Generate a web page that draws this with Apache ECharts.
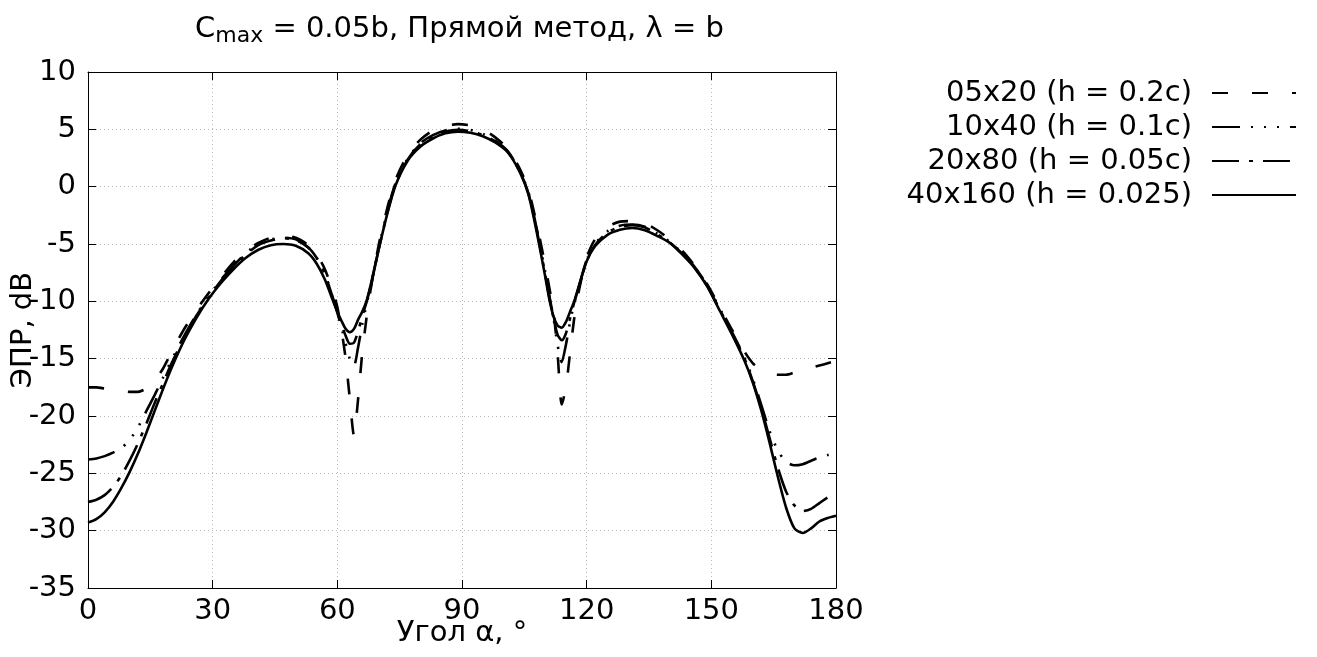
<!DOCTYPE html>
<html><head><meta charset="utf-8">
<script src="https://cdn.jsdelivr.net/npm/echarts@6/dist/echarts.min.js"></script>
<style>html,body{margin:0;padding:0;background:#fff}#c{width:1317px;height:657px}</style>
</head><body><div id="c"></div>
<script>
const angles = [0,2,4,6,8,10,12,14,16,18,
  20,23,26,29,32,35,38,41,44,47,
  50,53,55,57,59,60,61,62,63,64,
  65,66,67,68,70,72,74,77,80,83,
  86,89,92,95,98,101,104,106,108,110,
  111,112,113,114,115,116,117,118,120,122,
  125,128,131,134,137,140,143,146,149,152,
  155,158,160,162,164,166,168,170,172,174,
  176,178,180];

const s05x20 = [-17.5,-17.5,-17.6,-17.7,-17.8,-17.9,-17.9,-17.6,-16.9,-15.9,
  -14.5,-12.5,-10.8,-9.3,-7.9,-6.6,-5.6,-4.9,-4.45,-4.3,
  -4.45,-5.1,-5.9,-7.2,-9.2,-10.5,-12.5,-15.0,-18.5,-21.7,
  -18.5,-14.5,-11.5,-9.0,-5.0,-1.9,0.6,2.8,4.1,4.9,
  5.3,5.45,5.35,5.0,4.3,3.3,1.5,-0.3,-3.3,-6.8,
  -8.8,-10.8,-14.5,-19.0,-17.5,-14.5,-11.5,-9.3,-6.2,-4.6,
  -3.5,-3.05,-3.0,-3.2,-3.8,-4.6,-5.6,-6.9,-8.5,-10.5,
  -12.5,-14.4,-15.4,-16.0,-16.3,-16.4,-16.4,-16.2,-16.0,-15.8,
  -15.6,-15.4,-15.2];

const s10x40 = [-23.8,-23.7,-23.5,-23.2,-22.8,-22.1,-21.0,-19.6,-18.2,-16.7,
  -15.2,-13.1,-11.2,-9.6,-8.1,-6.9,-5.8,-5.0,-4.6,-4.45,
  -4.6,-5.3,-6.2,-7.6,-9.8,-11.0,-12.3,-13.7,-15.0,-15.6,
  -14.0,-12.0,-10.3,-8.8,-5.3,-2.2,0.3,2.5,3.8,4.5,
  4.9,5.05,4.95,4.6,4.0,3.1,1.3,-0.5,-3.7,-7.4,
  -9.5,-11.4,-13.8,-15.3,-13.8,-11.8,-10.2,-8.9,-6.4,-5.0,
  -3.9,-3.4,-3.3,-3.5,-4.1,-4.8,-5.8,-7.0,-8.6,-10.6,
  -12.7,-14.9,-16.8,-19.0,-21.3,-23.0,-24.0,-24.3,-24.2,-23.9,
  -23.6,-23.4,-23.2];

const s20x80 = [-27.5,-27.3,-26.9,-26.2,-25.2,-23.9,-22.4,-20.7,-18.9,-17.2,
  -15.5,-13.3,-11.3,-9.7,-8.2,-7.0,-5.9,-5.1,-4.7,-4.5,
  -4.65,-5.3,-6.2,-7.6,-9.8,-10.9,-12.0,-13.0,-13.7,-13.6,
  -12.6,-11.3,-10.1,-8.7,-5.4,-2.3,0.2,2.4,3.7,4.4,
  4.8,4.95,4.85,4.5,3.95,3.05,1.25,-0.6,-3.8,-7.6,
  -9.6,-11.4,-12.9,-13.4,-12.8,-11.5,-10.1,-8.9,-6.5,-5.1,
  -4.0,-3.5,-3.35,-3.55,-4.15,-4.85,-5.85,-7.05,-8.65,-10.7,
  -12.8,-15.0,-17.0,-19.3,-21.9,-24.5,-26.6,-27.8,-28.3,-28.1,
  -27.6,-27.1,-26.8];

const s40x160 = [-29.3,-29.0,-28.4,-27.5,-26.3,-24.9,-23.3,-21.5,-19.6,-17.7,
  -15.9,-13.5,-11.5,-9.8,-8.4,-7.2,-6.2,-5.5,-5.1,-5.0,
  -5.15,-5.8,-6.7,-8.1,-10.0,-10.9,-11.7,-12.4,-12.7,-12.4,
  -11.6,-10.9,-10.0,-8.6,-5.4,-2.4,0.1,2.3,3.5,4.2,
  4.65,4.8,4.7,4.4,3.85,3.0,1.2,-0.7,-4.0,-7.8,
  -9.8,-11.3,-12.1,-12.3,-11.8,-10.9,-10.0,-8.8,-6.5,-5.2,
  -4.2,-3.75,-3.6,-3.8,-4.3,-4.9,-5.9,-7.1,-8.7,-10.8,
  -12.9,-15.2,-17.1,-19.5,-22.3,-25.3,-28.0,-29.8,-30.2,-29.8,
  -29.2,-28.9,-28.7];

const seriesNames = ['05x20 (h = 0.2c)', '10x40 (h = 0.1c)', '20x80 (h = 0.05c)', '40x160 (h = 0.025)'];
const xTicks = {min: 0, max: 180, interval: 30};
const yTicks = {min: -35, max: 10, interval: 5};

const FONT = 'DejaVu Sans';
const FS = 29;
const dashes = [[16, 24], [28, 11, 2, 11, 2, 11, 2, 11], [27, 10, 4, 10], 'solid'];
const dataSets = [s05x20, s10x40, s20x80, s40x160];

const chart = echarts.init(document.getElementById('c'), null, {renderer: 'canvas'});
const gridLine = {show: true, lineStyle: {color: '#b8b8b8', type: [1, 3], width: 1}};
const frameLine = {show: true, onZero: false, lineStyle: {color: '#000', width: 1}};
const tickIn = {show: true, inside: true, length: 8, lineStyle: {color: '#000', width: 1}};

chart.setOption({
  animation: false,
  backgroundColor: '#fff',
  title: {
    text: '{a|C}{s|max}{a| = 0.05b, Прямой метод, λ = b}',
    left: 190, top: 6,
    textStyle: {
      fontWeight: 'normal',
      rich: {
        a: {fontFamily: FONT, fontSize: FS, fontWeight: 'normal', color: '#000', lineHeight: 36, verticalAlign: 'middle'},
        s: {fontFamily: FONT, fontSize: 22, fontWeight: 'normal', color: '#000', lineHeight: 22, verticalAlign: 'bottom'}
      }
    }
  },
  legend: {
    orient: 'vertical', right: 20, top: 76, align: 'right', padding: 0,
    itemWidth: 84, itemHeight: 14, itemGap: 0,
    data: seriesNames,
    itemStyle: {color: 'rgba(0,0,0,0)', borderWidth: 0, opacity: 0},
    textStyle: {fontFamily: FONT, fontSize: FS, color: '#000', lineHeight: 34, width: 300, align: 'right', padding: [0, 15, 0, 0]},
    selectedMode: false
  },
  grid: {left: 88, right: 481, top: 72, bottom: 69, containLabel: false, outerBoundsMode: 'none'},
  xAxis: [{
    type: 'value', min: xTicks.min, max: xTicks.max, interval: xTicks.interval,
    axisLine: frameLine, axisTick: tickIn, splitLine: gridLine,
    axisLabel: {fontFamily: FONT, fontSize: FS, color: '#000', margin: 9},
    name: 'Угол α, °', nameLocation: 'middle', nameGap: 31, nameMoveOverlap: false,
    nameTextStyle: {fontFamily: FONT, fontSize: FS, color: '#000'}
  }, {
    type: 'value', position: 'top', min: xTicks.min, max: xTicks.max, interval: xTicks.interval,
    axisLine: frameLine, axisTick: tickIn, splitLine: {show: false}, axisLabel: {show: false}
  }],
  yAxis: [{
    type: 'value', min: yTicks.min, max: yTicks.max, interval: yTicks.interval,
    axisLine: frameLine, axisTick: tickIn, splitLine: gridLine,
    axisLabel: {fontFamily: FONT, fontSize: FS, color: '#000', margin: 12},
    name: 'ЭПР, dB', nameLocation: 'middle', nameGap: 50, nameRotate: 90, nameMoveOverlap: false,
    nameTextStyle: {fontFamily: FONT, fontSize: FS, color: '#000'}
  }, {
    type: 'value', position: 'right', min: yTicks.min, max: yTicks.max, interval: yTicks.interval,
    axisLine: frameLine, axisTick: tickIn, splitLine: {show: false}, axisLabel: {show: false}
  }],
  series: seriesNames.map((name, i) => ({
    name, type: 'line', xAxisIndex: 0, yAxisIndex: 0,
    data: angles.map((a, k) => [a, dataSets[i][k]]),
    showSymbol: false, symbol: 'none', smooth: 0.25,
    z: 2 + i,
    lineStyle: {color: '#000', width: 2.6, type: dashes[i], cap: 'butt'},
    itemStyle: {color: '#000'}
  }))
});
</script>
</body></html>
